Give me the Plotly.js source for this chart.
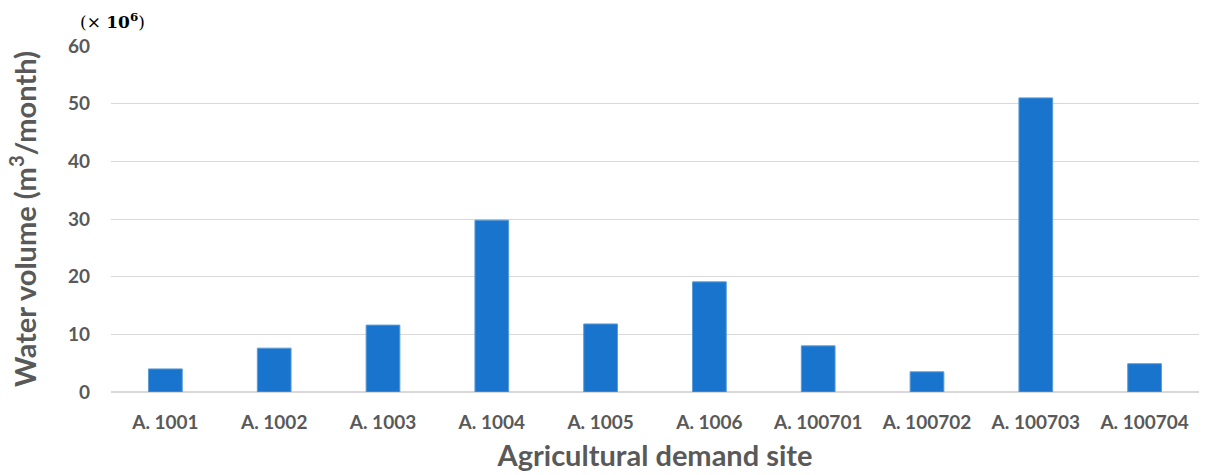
<!DOCTYPE html>
<html><head><meta charset="utf-8">
<script src="https://cdn.plot.ly/plotly-3.0.1.min.js"></script>
<style>html,body{margin:0;padding:0;background:#fff;}#chart{width:1205px;height:475px;}</style>
</head><body><div id="chart"></div>
<script>
const categories = ["A. 1001","A. 1002","A. 1003","A. 1004","A. 1005","A. 1006","A. 100701","A. 100702","A. 100703","A. 100704"];
const waterVolume = [4.0, 7.6, 11.6, 29.8, 11.8, 19.1, 8.0, 3.5, 51.0, 4.9];
const yTicks = [0,10,20,30,40,50,60];

const font = "Lato, 'Open Sans', sans-serif";
const grey = "#595959";

Plotly.newPlot("chart", [{
  type: "bar",
  x: categories,
  y: waterVolume,
  marker: {color: "#1874CD", line: {color: "#5B9BD5", width: 1}},
  hoverinfo: "x+y"
}], {
  width: 1205, height: 475,
  margin: {l: 111, r: 6, t: 46, b: 83},
  paper_bgcolor: "#fff", plot_bgcolor: "#fff",
  bargap: 0.69,
  showlegend: false,
  font: {family: font, color: grey},
  xaxis: {
    tickfont: {family: font, size: 19, color: grey, weight: "bold"},
    ticklabelstandoff: 17,
    showgrid: false, showline: false, ticks: "",
    title: {text: "<b>Agricultural demand site</b>", font: {family: font, size: 29, color: grey}, standoff: 13}
  },
  yaxis: {
    range: [0, 60], tickvals: yTicks, ticktext: yTicks.map(String),
    tickfont: {family: font, size: 19, color: grey, weight: "bold"},
    ticklabelstandoff: 20,
    gridcolor: "#D9D9D9", gridwidth: 1,
    zeroline: true, zerolinecolor: "#D9D9D9", zerolinewidth: 2,
    showline: false, ticks: "", ticklen: 0,
    title: {text: "<b>Water volume (m<sup>3</sup>/month)</b>", font: {family: font, size: 29, color: grey}, standoff: 22}
  },
  annotations: [{
    xref: "paper", yref: "paper", x: 0.001, y: 1.0, yshift: 25,
    xanchor: "center", yanchor: "middle", showarrow: false,
    text: "(× <b>10</b><sup><b>6</b></sup>)",
    font: {family: "'DejaVu Serif', 'Liberation Serif', serif", size: 17, color: "#000"}
  }]
}, {displayModeBar: false, staticPlot: true});
</script></body></html>
